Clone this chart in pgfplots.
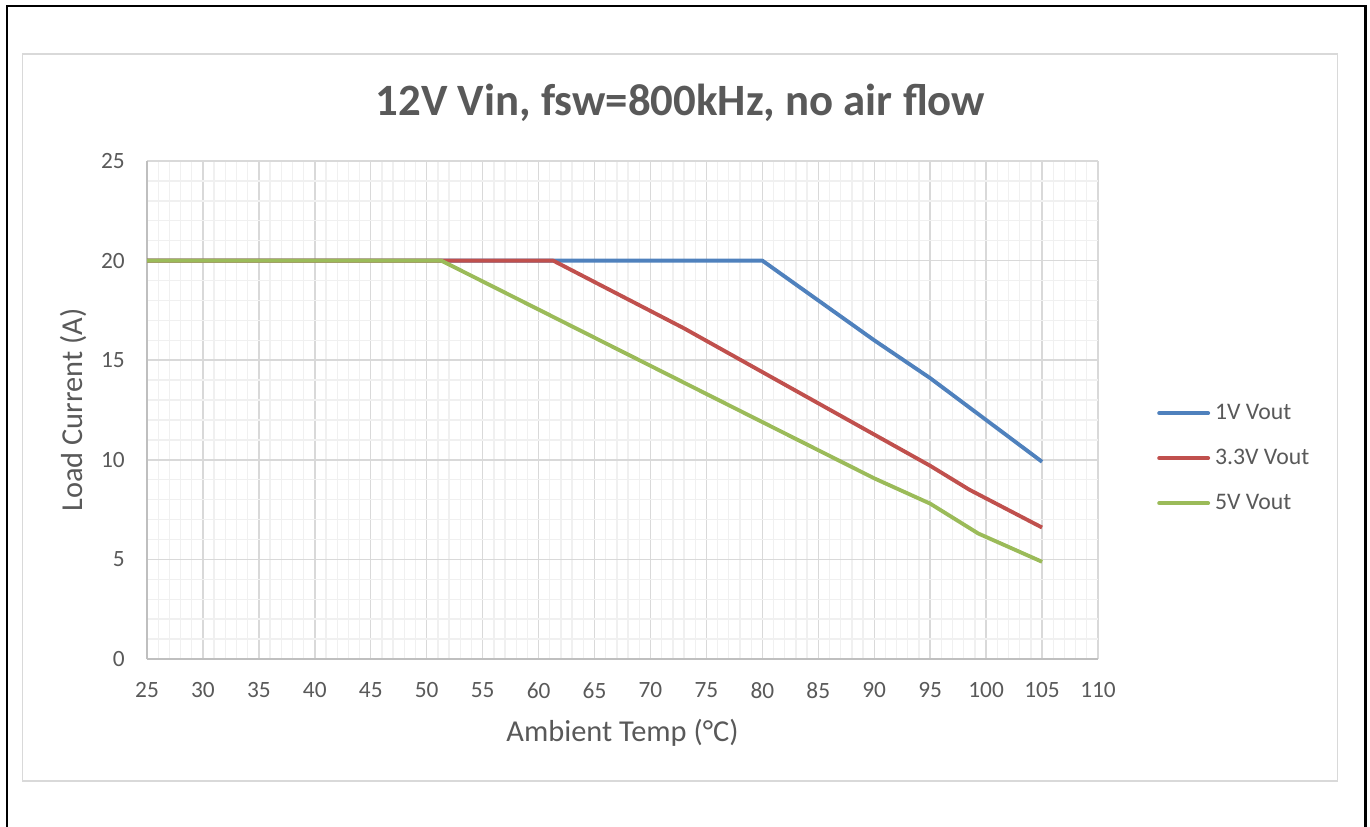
\documentclass[border=0pt]{standalone}
\usepackage{fontspec}
\setmainfont{Carlito}
\usepackage{pgfplots}
\pgfplotsset{compat=1.18}
\definecolor{textgray}{HTML}{595959}
\definecolor{gridmajor}{HTML}{D9D9D9}
\definecolor{gridminor}{HTML}{F0F0F0}
\definecolor{axisgray}{HTML}{BFBFBF}
\definecolor{frame}{HTML}{D9D9D9}
\definecolor{s1}{HTML}{4F81BD}
\definecolor{s2}{HTML}{C0504D}
\definecolor{s3}{HTML}{9BBB59}
\begin{document}
\begin{tikzpicture}
\path[use as bounding box] (0,0) rectangle (1027.5pt,619.5pt);
\begin{scope}[x=0.75pt,y=-0.75pt,yshift=619.5pt]
\draw[black,line width=1.7pt] (7,830) -- (7,6) -- (1365.5,6) -- (1365.5,830);
\draw[frame,line width=1.1pt] (22.7,54) rectangle (1337.5,781);
\node[anchor=base,font=\bfseries\fontsize{33.6}{39}\selectfont,text=textgray,inner sep=0pt] at (680.5,116) {12V Vin, fsw=800kHz, no air flow};
\end{scope}
\begin{axis}[
  at={(110.25pt,125.25pt)}, anchor=south west,
  scale only axis, width=713.25pt, height=373.5pt,
  xmin=25, xmax=110, ymin=0, ymax=25,
  xtick={25,30,...,110}, ytick={0,5,...,25},
  minor x tick num=4, minor y tick num=4,
  grid=both,
  major grid style={draw=gridmajor, line width=1.1pt},
  minor grid style={draw=gridminor, line width=1pt},
  axis x line*=bottom, axis y line*=left,
  axis line style={draw=axisgray, line width=1.1pt, -},
  major tick length=0pt, minor tick length=0pt,
  tick style={draw=none},
  /pgf/number format/assume math mode=true,
  ticklabel style={font=\fontsize{17.5}{20}\selectfont, text=textgray},
  xticklabel style={anchor=north, inner sep=0pt, yshift=-17.25pt},
  yticklabel style={anchor=east, inner sep=0pt, xshift=-16.5pt},
  xlabel={Ambient Temp (°C)}, ylabel={Load Current (A)},
  label style={font=\fontsize{22.8}{27}\selectfont, text=textgray, inner sep=0pt},
  xlabel style={at={(axis description cs:0.5,-0.1666)}, anchor=base},
  ylabel style={at={(axis description cs:-0.0673,0.5)}, anchor=base},
  legend style={draw=none, fill=none, at={(axis description cs:1.0578,0.517)}, anchor=north west,
    font=\fontsize{17.8}{21}\selectfont, text=textgray, row sep=20.8pt, nodes={inner sep=0pt},
    /tikz/every odd column/.append style={column sep=3.75pt}},
  legend cell align=left,
  legend image code/.code={\draw[#1, line width=2.9pt, line cap=round] (1.5pt,0pt) -- (38.25pt,0pt);},
]
\addplot[s1, line width=2.9pt, line join=round] coordinates {(25,20) (80,20) (90,16) (95,14.1) (100,12) (105,9.9)};
\addlegendentry{1V Vout}
\addplot[s2, line width=2.9pt, line join=round] coordinates {(25,20) (61.3,20) (73,16.6) (95,9.7) (98.5,8.5) (105,6.6)};
\addlegendentry{3.3V Vout}
\addplot[s3, line width=2.9pt, line join=round] coordinates {(25,20) (51.3,20) (90,9.07) (95,7.8) (99.3,6.3) (105,4.88)};
\addlegendentry{5V Vout}
\end{axis}
\end{tikzpicture}
\end{document}
